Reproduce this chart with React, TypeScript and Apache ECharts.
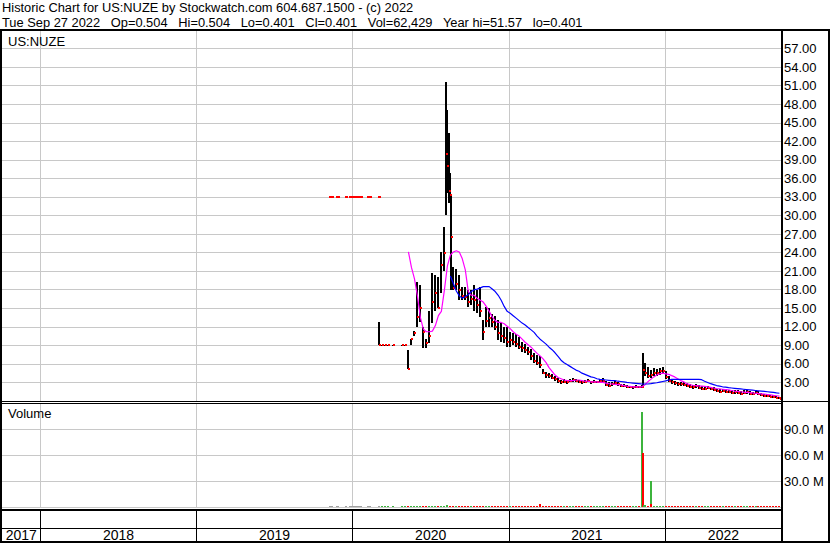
import React, { useEffect, useRef } from "react";
import * as echarts from "echarts";

// ---------- DATA ----------
const titleLine1 = "Historic Chart for US:NUZE by Stockwatch.com 604.687.1500 - (c) 2022";
const titleLine2 = "Tue Sep 27 2022   Op=0.504   Hi=0.504   Lo=0.401   Cl=0.401   Vol=62,429   Year hi=51.57   lo=0.401";
const symbolLabel = "US:NUZE";
const volumeLabel = "Volume";

const yearStarts = ["2018-01-01", "2019-01-01", "2020-01-01", "2021-01-01", "2022-01-01"];
const yearLabels = ["2017", "2018", "2019", "2020", "2021", "2022"];
const yearSpans = [
  ["2017-01-01", "2018-01-01"], ["2018-01-01", "2019-01-01"], ["2019-01-01", "2020-01-01"],
  ["2020-01-01", "2021-01-01"], ["2021-01-01", "2022-01-01"], ["2022-01-01", "2023-01-01"],
];

// early (OTC) prints at 33.00
const otcDates = [
  "2019-11-09", "2019-11-11", "2019-11-13", "2019-11-25", "2019-11-27", "2019-11-29", "2019-12-16",
  "2019-12-27", "2019-12-30", "2020-01-02", "2020-01-06", "2020-01-09", "2020-01-13", "2020-01-16",
  "2020-01-20", "2020-02-06", "2020-02-10", "2020-02-12", "2020-03-02", "2020-03-04",
];
const otcPrice = [33, 33, 33, 33, 33, 33, 33, 33, 33, 33, 33, 33, 33, 33, 33, 33, 33, 33, 33, 33];

const weekDates = [
  "2020-03-02", "2020-03-09", "2020-03-16", "2020-03-23", "2020-03-30", "2020-04-06", "2020-04-13", "2020-04-20", "2020-04-27", "2020-05-04",
  "2020-05-11", "2020-05-18", "2020-05-25", "2020-06-01", "2020-06-08", "2020-06-15", "2020-06-22", "2020-06-29", "2020-07-06", "2020-07-13",
  "2020-07-20", "2020-07-27", "2020-08-03", "2020-08-10", "2020-08-17", "2020-08-24", "2020-08-31", "2020-09-07", "2020-09-14", "2020-09-21",
  "2020-09-28", "2020-10-05", "2020-10-12", "2020-10-19", "2020-10-26", "2020-11-02", "2020-11-09", "2020-11-16", "2020-11-23", "2020-11-30",
  "2020-12-07", "2020-12-14", "2020-12-21", "2020-12-28", "2021-01-04", "2021-01-11", "2021-01-18", "2021-01-25", "2021-02-01", "2021-02-08",
  "2021-02-15", "2021-02-22", "2021-03-01", "2021-03-08", "2021-03-15", "2021-03-22", "2021-03-29", "2021-04-05", "2021-04-12", "2021-04-19",
  "2021-04-26", "2021-05-03", "2021-05-10", "2021-05-17", "2021-05-24", "2021-05-31", "2021-06-07", "2021-06-14", "2021-06-21", "2021-06-28",
  "2021-07-05", "2021-07-12", "2021-07-19", "2021-07-26", "2021-08-02", "2021-08-09", "2021-08-16", "2021-08-23", "2021-08-30", "2021-09-06",
  "2021-09-13", "2021-09-20", "2021-09-27", "2021-10-04", "2021-10-11", "2021-10-18", "2021-10-25", "2021-11-01", "2021-11-08", "2021-11-15",
  "2021-11-22", "2021-11-29", "2021-12-06", "2021-12-13", "2021-12-20", "2021-12-27", "2022-01-03", "2022-01-10", "2022-01-17", "2022-01-24",
  "2022-01-31", "2022-02-07", "2022-02-14", "2022-02-21", "2022-02-28", "2022-03-07", "2022-03-14", "2022-03-21", "2022-03-28", "2022-04-04",
  "2022-04-11", "2022-04-18", "2022-04-25", "2022-05-02", "2022-05-09", "2022-05-16", "2022-05-23", "2022-05-30", "2022-06-06", "2022-06-13",
  "2022-06-20", "2022-06-27", "2022-07-04", "2022-07-11", "2022-07-18", "2022-07-25", "2022-08-01", "2022-08-08", "2022-08-15", "2022-08-22",
  "2022-08-29", "2022-09-05", "2022-09-12", "2022-09-19", "2022-09-26",
];
const weekHigh = [
  12.8, 9, 9, 9, null, 9, null, null, 9, 9,
  8.2, 10.1, 11.3, 19.3, 18.8, 12.0, 10.0, 14.5, 20.7, 20.4,
  20.0, 24.1, 28.2, 47.0, 36.8, 21.7, 21.3, 20.4, 18.5, 18.5,
  18.0, 18.0, 18.75, 18.0, 18.5, 13.1, 15.2, 15.0, 14.0, 13.8,
  13.1, 12.6, 12.0, 12.0, 11.2, 11.0, 10.8, 10.4, 9.6, 9.2,
  8.8, 8.4, 7.7, 7.5, 7.2, 5.2, 4.7, 4.6, 4.4, 4.0,
  3.7, 3.4, 3.5, 3.3, 3.6, 3.8, 3.5, 3.4, 3.3, 3.4,
  3.5, 3.3, 3.4, 3.3, 3.5, 3.7, 3.2, 3.0, 3.1, 3.2,
  3.0, 2.8, 2.7, 2.6, 2.5, 2.5, 2.6, 2.5, 2.6, 6.2,
  5.5, 5.0, 5.3, 5.2, 5.3, 5.5, 4.8, 4.0, 3.5, 3.2,
  3.1, 3.0, 3.1, 2.9, 2.7, 2.6, 2.7, 2.6, 2.4, 2.3,
  2.4, 2.3, 2.2, 2.0, 1.9, 2.0, 1.9, 1.8, 1.7, 1.8,
  1.7, 1.6, 1.7, 1.8, 1.6, 1.5, 1.8, 1.6, 1.3, 1.2,
  1.1, 1.0, 0.9, 0.8, 0.6,
];
const weekLow = [
  9.0, 9, 9, 9, null, 9, null, null, 9, 9,
  5.1, 9.0, 10.5, 12.0, 12.8, 8.6, 8.5, 9.3, 12.6, 14.5,
  15.0, 17.5, 21.0, 33.6, 32.5, 18.0, 18.0, 16.3, 16.3, 16.3,
  15.2, 15.6, 14.6, 14.2, 13.6, 9.9, 12.0, 12.0, 12.0, 11.5,
  9.9, 9.6, 9.4, 8.8, 8.8, 9.0, 8.8, 8.4, 8.0, 7.7,
  7.5, 6.6, 6.1, 5.8, 5.3, 4.3, 3.8, 3.7, 3.5, 3.2,
  2.9, 2.8, 2.9, 2.8, 3.0, 3.1, 3.0, 2.9, 2.8, 2.9,
  3.0, 2.8, 2.9, 2.9, 3.0, 3.0, 2.4, 2.3, 2.5, 2.6,
  2.5, 2.3, 2.2, 2.1, 2.05, 2.0, 2.1, 2.05, 2.1, 4.0,
  3.7, 3.8, 4.0, 4.0, 4.2, 4.3, 3.6, 3.0, 2.8, 2.6,
  2.5, 2.4, 2.4, 2.3, 2.1, 2.0, 2.1, 1.9, 1.8, 1.8,
  1.9, 1.8, 1.6, 1.4, 1.3, 1.4, 1.3, 1.25, 1.2, 1.2,
  1.1, 1.0, 1.1, 1.2, 1.0, 1.0, 1.1, 1.0, 0.8, 0.7,
  0.6, 0.6, 0.5, 0.45, 0.4,
];
const weekClose = [
  9.0, 9, 9, 9, null, 9, null, null, 9, 9,
  5.1, 10.1, 11.0, 13.6, 15.0, 11.2, 9.3, 10.5, 16.0, 17.5,
  15.0, 22.0, 24.0, 38.0, 33.3, 18.3, 19.0, 17.9, 17.0, 16.8,
  16.0, 16.5, 16.3, 15.5, 14.5, 11.2, 13.0, 13.5, 12.8, 12.0,
  11.0, 10.5, 10.2, 9.5, 9.8, 9.5, 9.2, 8.8, 8.5, 8.2,
  8.0, 7.2, 6.5, 6.2, 5.8, 4.6, 4.2, 4.0, 3.8, 3.5,
  3.2, 3.0, 3.1, 3.0, 3.3, 3.4, 3.2, 3.1, 3.0, 3.1,
  3.2, 3.0, 3.1, 3.1, 3.2, 3.3, 2.6, 2.5, 2.8, 2.9,
  2.7, 2.5, 2.4, 2.3, 2.2, 2.2, 2.3, 2.2, 2.3, 4.5,
  4.0, 4.2, 4.5, 4.6, 4.8, 4.9, 3.9, 3.3, 3.0, 2.9,
  2.8, 2.7, 2.6, 2.5, 2.3, 2.2, 2.4, 2.1, 2.0, 2.0,
  2.1, 2.0, 1.8, 1.6, 1.5, 1.6, 1.5, 1.4, 1.3, 1.4,
  1.3, 1.2, 1.3, 1.4, 1.2, 1.1, 1.3, 1.1, 0.9, 0.85,
  0.8, 0.7, 0.6, 0.55, 0.45,
];
// volume in millions
const weekVolume = [
  0.3, 0.2, 0.2, 0.2, 0, 0.2, 0, 0, 0.2, 0.2,
  1.2, 0.8, 1.0, 1.5, 1.3, 1.0, 0.8, 0.9, 1.2, 1.4,
  1.1, 1.3, 1.5, 1.8, 1.4, 1.2, 1.0, 0.9, 0.8, 0.8,
  0.9, 0.8, 0.7, 0.8, 0.9, 1.0, 0.8, 0.7, 0.8, 0.7,
  0.8, 0.9, 0.8, 0.7, 1.0, 0.9, 0.8, 0.7, 0.8, 0.9,
  1.0, 1.2, 1.1, 1.4, 3.0, 1.5, 1.2, 1.0, 0.9, 1.0,
  0.9, 0.8, 0.9, 1.0, 1.1, 0.9, 0.8, 0.9, 0.8, 0.9,
  0.8, 0.9, 0.8, 0.7, 0.8, 1.0, 0.9, 0.8, 0.8, 0.7,
  0.8, 0.7, 0.8, 0.7, 0.8, 0.7, 0.8, 0.8, 0.9, 2.0,
  1.5, 1.2, 1.0, 0.9, 0.8, 0.8, 0.9, 0.8, 0.7, 0.8,
  0.7, 0.8, 0.7, 0.8, 0.7, 0.7, 0.8, 0.7, 0.7, 0.8,
  0.7, 0.8, 0.7, 0.8, 0.7, 0.8, 0.7, 0.8, 0.7, 0.8,
  0.8, 0.9, 0.8, 0.9, 0.8, 0.9, 1.5, 1.6, 0.9, 0.8,
  0.8, 0.9, 0.8, 0.9, 0.8,
];
// magenta (short) moving average
const maShort = [
  null, null, null, null, null, null, null, null, null, null,
  24.1, 21.6, 19.8, 17.0, 13.5, 11.6, 11.2, 11.2, 11.3, 12.2,
  13.8, 14.5, 17.9, 21.8, 23.6, 24.1, 24.3, 24.1, 23.0, 21.2,
  17.7, 17.1, 17.1, 16.6, 16.3, 16.0, 15.3, 14.5, 13.6, 13.0,
  12.7, 12.7, 12.5, 12.1, 11.7, 11.2, 10.8, 10.5, 10.0, 9.5,
  9.1, 8.7, 8.2, 7.7, 7.3, 6.8, 6.2, 5.4, 4.8, 4.2,
  3.8, 3.6, 3.4, 3.3, 3.3, 3.3, 3.4, 3.4, 3.3, 3.2,
  3.2, 3.1, 3.1, 3.1, 3.0, 3.0, 2.9, 2.8, 2.75, 2.7,
  2.65, 2.6, 2.5, 2.4, 2.35, 2.3, 2.3, 2.3, 2.3, 2.6,
  3.1, 3.5, 3.9, 4.2, 4.4, 4.5, 4.4, 4.3, 4.1, 3.9,
  3.6, 3.3, 3.1, 2.8, 2.65, 2.55, 2.5, 2.45, 2.4, 2.35,
  2.3, 2.2, 2.1, 2.0, 1.95, 1.9, 1.85, 1.8, 1.7, 1.6,
  1.55, 1.5, 1.45, 1.4, 1.35, 1.3, 1.25, 1.2, 1.15, 1.1,
  1.05, 1.0, 0.9, 0.85, 0.8,
];
// blue (long) moving average
const maLong = [
  null, null, null, null, null, null, null, null, null, null,
  null, null, null, null, null, null, null, null, null, null,
  null, null, null, null, 20.2, 19.0, 17.8, 17.0, 16.6, 16.9,
  17.2, 17.7, 18.0, 18.1, 18.3, 18.5, 18.5, 18.5, 18.1, 17.7,
  17.1, 16.3, 15.3, 14.5, 14.2, 13.8, 13.4, 13.0, 12.6, 12.3,
  11.9, 11.5, 11.1, 10.5, 10.0, 9.6, 9.2, 8.7, 8.3, 7.8,
  7.2, 6.6, 6.2, 5.9, 5.6, 5.3, 5.0, 4.8, 4.5, 4.3,
  4.1, 3.9, 3.8, 3.6, 3.5, 3.45, 3.4, 3.35, 3.3, 3.3,
  3.2, 3.15, 3.1, 3.0, 2.95, 2.9, 2.85, 2.8, 2.75, 2.75,
  2.75, 2.8, 2.9, 2.95, 3.05, 3.15, 3.25, 3.4, 3.5, 3.5,
  3.5, 3.5, 3.5, 3.5, 3.5, 3.5, 3.5, 3.5, 3.45, 3.2,
  3.0, 2.8, 2.65, 2.5, 2.4, 2.3, 2.25, 2.15, 2.1, 2.05,
  2.0, 1.95, 1.9, 1.85, 1.8, 1.75, 1.7, 1.65, 1.6, 1.55,
  1.5, 1.45, 1.4, 1.3, 1.25,
];
// extra single days (spikes and the last session)
const dayDates = ["2020-08-06", "2020-08-13", "2020-08-19", "2021-11-10", "2022-09-27"];
const dayHigh = [51.57, 43.3, 33.3, 7.7, 0.504];
const dayLow = [30.1, 32.0, 18.0, 2.1, 0.401];
const dayClose = [40.0, 34.0, 26.6, 5.0, 0.401];
// big volume days (millions), 1 = up day, 0 = down day
const volDayDates = ["2021-11-09", "2021-11-10", "2021-11-12", "2021-11-29", "2021-11-30"];
const volDayValues = [110, 62, 2, 30.5, 3];
const volDayUp = [1, 0, 1, 1, 0];

// ---------- helpers ----------
const ts = (s: string) => {
  const [y, m, d] = s.split("-").map(Number);
  return new Date(y, m - 1, d).getTime();
};
const FONT = '"Liberation Sans", Arial, sans-serif';
const GRID_GRAY = "#c8c8c8";
const GREEN = "#3cb43c";
const RED = "#ff0000";

function yearLineRenderer(color: string) {
  return (params: any, api: any) => {
    const cs = params.coordSys;
    const x = Math.round(api.coord([api.value(0), 0])[0]) + 0.5;
    return {
      type: "line",
      shape: { x1: x, y1: cs.y, x2: x, y2: cs.y + cs.height },
      style: { stroke: color, lineWidth: 1 },
      silent: true,
    };
  };
}

function renderYearLabel(params: any, api: any) {
  const cs = params.coordSys;
  let x1 = api.coord([api.value(0), 0])[0];
  let x2 = api.coord([api.value(1), 0])[0];
  x1 = Math.max(x1, cs.x);
  x2 = Math.min(x2, cs.x + cs.width);
  if (x2 - x1 < 20) return null;
  return {
    type: "text",
    style: {
      text: yearLabels[params.dataIndex],
      x: (x1 + x2) / 2,
      y: cs.y + cs.height - 6.5,
      align: "center",
      verticalAlign: "middle",
      font: "14px " + FONT,
      fill: "#000",
    },
    silent: true,
  };
}

function renderBar(params: any, api: any) {
  const t = api.value(0);
  const hi = api.coord([t, api.value(1)]);
  const lo = api.coord([t, api.value(2)]);
  const x = Math.round(hi[0]);
  const y1 = Math.round(hi[1]);
  const y2 = Math.round(lo[1]);
  return { type: "rect", shape: { x: x - 1, y: y1, width: 2, height: Math.max(1, y2 - y1) }, style: { fill: "#000" } };
}

function renderCloseTick(params: any, api: any) {
  const cl = api.coord([api.value(0), api.value(3)]);
  return { type: "rect", shape: { x: Math.round(cl[0]), y: Math.round(cl[1]) - 1, width: 2, height: 2 }, style: { fill: RED } };
}

function renderDot(params: any, api: any) {
  const p = api.coord([api.value(0), api.value(1)]);
  return { type: "rect", shape: { x: Math.round(p[0]) - 1, y: Math.round(p[1]) - 1, width: 3, height: 2 }, style: { fill: RED } };
}

function renderVolume(params: any, api: any) {
  const t = api.value(0);
  const v = api.value(1);
  if (!(v > 0)) return null;
  const p = api.coord([t, v]);
  const p0 = api.coord([t, 0]);
  const x = Math.round(p[0]);
  const top = Math.min(Math.round(p[1]), Math.round(p0[1]) - 1);
  const c = api.value(2);
  return {
    type: "rect",
    shape: { x: x - 1, y: top, width: 2, height: Math.round(p0[1]) - top + 1 },
    style: { fill: c === 1 ? GREEN : c === 0 ? RED : "#a0a0a0" },
  };
}

export default function App() {
  const ref = useRef<HTMLDivElement>(null);

  useEffect(() => {
    const chart = echarts.init(ref.current!, null, { renderer: "svg" });

    const priceRows: any[] = [];
    weekDates.forEach((d, i) => {
      if (weekHigh[i] != null) priceRows.push([ts(d), weekHigh[i], weekLow[i], weekClose[i]]);
    });
    dayDates.forEach((d, i) => priceRows.push([ts(d), dayHigh[i], dayLow[i], dayClose[i]]));
    priceRows.sort((a, b) => a[0] - b[0]);

    const volRows: any[] = [];
    let prev: number | null = null;
    weekDates.forEach((d, i) => {
      const c = weekClose[i];
      const up = c == null || prev == null ? 1 : c >= prev ? 1 : 0;
      volRows.push([ts(d), weekVolume[i], up]);
      if (c != null) prev = c;
    });
    volDayDates.forEach((d, i) => volRows.push([ts(d), volDayValues[i], volDayUp[i]]));
    otcDates.forEach((d) => volRows.push([ts(d), 0.5, 2]));

    const maShortData = weekDates.map((d, i) => [ts(d), maShort[i]]).filter((r) => r[1] != null);
    const maLongData = weekDates.map((d, i) => [ts(d), maLong[i]]).filter((r) => r[1] != null);

    const xMin = ts("2017-10-03");
    const xMax = ts("2022-10-02");
    const yearLineData = yearStarts.map((d) => [ts(d), 0]);

    const frameLine = (x1: number, y1: number, x2: number, y2: number, w: number) => ({
      type: "line",
      z: 100,
      silent: true,
      shape: { x1, y1, x2, y2 },
      style: { stroke: "#000", lineWidth: w },
    });
    const label = (text: string, x: number, y: number, size: number) => ({
      type: "text",
      z: 100,
      silent: true,
      x,
      y,
      style: { text, font: size + "px " + FONT, fill: "#000", verticalAlign: "middle", align: "left" },
    });

    const option: any = {
      animation: false,
      backgroundColor: "#fff",
      textStyle: { fontFamily: FONT },
      grid: [
        { left: 2, right: 48, top: 30, height: 371 },
        { left: 2, right: 48, top: 403, height: 104 },
        { left: 2, right: 48, top: 510, height: 31 },
      ],
      xAxis: [0, 1, 2].map((i) => ({ type: "time", gridIndex: i, min: xMin, max: xMax, show: false })),
      yAxis: [
        {
          type: "value", gridIndex: 0, position: "right", min: 0, max: 60, interval: 3,
          axisLine: { show: false }, axisTick: { show: false },
          splitLine: { show: true, lineStyle: { color: GRID_GRAY, width: 1 } },
          axisLabel: {
            margin: 2, fontSize: 13, fontFamily: FONT, color: "#000",
            formatter: (v: number) => (v <= 0 || v >= 60 ? "" : v.toFixed(2)),
          },
        },
        {
          type: "value", gridIndex: 1, position: "right", min: 0, max: 120, interval: 30,
          axisLine: { show: false }, axisTick: { show: false },
          splitLine: { show: true, lineStyle: { color: GRID_GRAY, width: 1 } },
          axisLabel: {
            margin: 2, fontSize: 13, fontFamily: FONT, color: "#000",
            formatter: (v: number) => (v <= 0 || v >= 120 ? "" : v.toFixed(1) + " M"),
          },
        },
        { type: "value", gridIndex: 2, min: 0, max: 1, show: false },
      ],
      series: [
        { type: "custom", xAxisIndex: 0, yAxisIndex: 0, data: yearLineData, renderItem: yearLineRenderer(GRID_GRAY), encode: { x: 0, y: 1 }, silent: true, z: 1 },
        { type: "custom", xAxisIndex: 1, yAxisIndex: 1, data: yearLineData, renderItem: yearLineRenderer(GRID_GRAY), encode: { x: 0, y: 1 }, silent: true, z: 1 },
        { type: "custom", xAxisIndex: 2, yAxisIndex: 2, data: yearLineData, renderItem: yearLineRenderer("#000"), encode: { x: 0, y: 1 }, silent: true, z: 1 },
        {
          type: "custom", xAxisIndex: 2, yAxisIndex: 2, silent: true, z: 2,
          data: yearSpans.map((s) => [ts(s[0]), ts(s[1])]),
          encode: { x: [0, 1] },
          renderItem: renderYearLabel,
        },
        {
          type: "custom", name: "otc", xAxisIndex: 0, yAxisIndex: 0, clip: true, z: 3,
          data: otcDates.map((d, i) => [ts(d), otcPrice[i]]),
          encode: { x: 0, y: 1 },
          renderItem: renderDot,
        },
        {
          type: "custom", name: "range", xAxisIndex: 0, yAxisIndex: 0, clip: true, z: 3,
          data: priceRows,
          encode: { x: 0, y: [1, 2] },
          renderItem: renderBar,
        },
        {
          type: "custom", name: "close", xAxisIndex: 0, yAxisIndex: 0, clip: true, z: 4,
          data: priceRows,
          encode: { x: 0, y: 3 },
          renderItem: renderCloseTick,
        },
        {
          type: "line", name: "maShort", xAxisIndex: 0, yAxisIndex: 0, data: maShortData,
          showSymbol: false, symbol: "none", z: 5, lineStyle: { color: "#ff00ff", width: 1.2 },
        },
        {
          type: "line", name: "maLong", xAxisIndex: 0, yAxisIndex: 0, data: maLongData,
          showSymbol: false, symbol: "none", z: 5, lineStyle: { color: "#0000ff", width: 1.2 },
        },
        {
          type: "custom", name: "volume", xAxisIndex: 1, yAxisIndex: 1, clip: true, z: 3,
          data: volRows,
          encode: { x: 0, y: 1 },
          renderItem: renderVolume,
        },
      ],
      graphic: [
        label(titleLine1, 2, 7.5, 12.85),
        label(titleLine2, 2, 22.5, 12.85),
        label(symbolLabel, 8, 41.5, 13),
        label(volumeLabel, 8, 413.5, 13),
        frameLine(0, 30, 830, 30, 2),
        frameLine(1, 29, 1, 543, 2),
        frameLine(829, 29, 829, 543, 2),
        frameLine(782, 29, 782, 543, 2),
        frameLine(0, 401.5, 830, 401.5, 1),
        frameLine(0, 403.5, 782, 403.5, 1),
        frameLine(0, 510, 782, 510, 2),
        frameLine(0, 528.5, 782, 528.5, 1),
        frameLine(0, 542, 830, 542, 2),
      ],
    };

    chart.setOption(option);
    return () => chart.dispose();
  }, []);

  return (
    <div
      ref={ref}
      style={{ position: "fixed", left: 0, top: 0, width: 830, height: 543, background: "#fff" }}
    />
  );
}
